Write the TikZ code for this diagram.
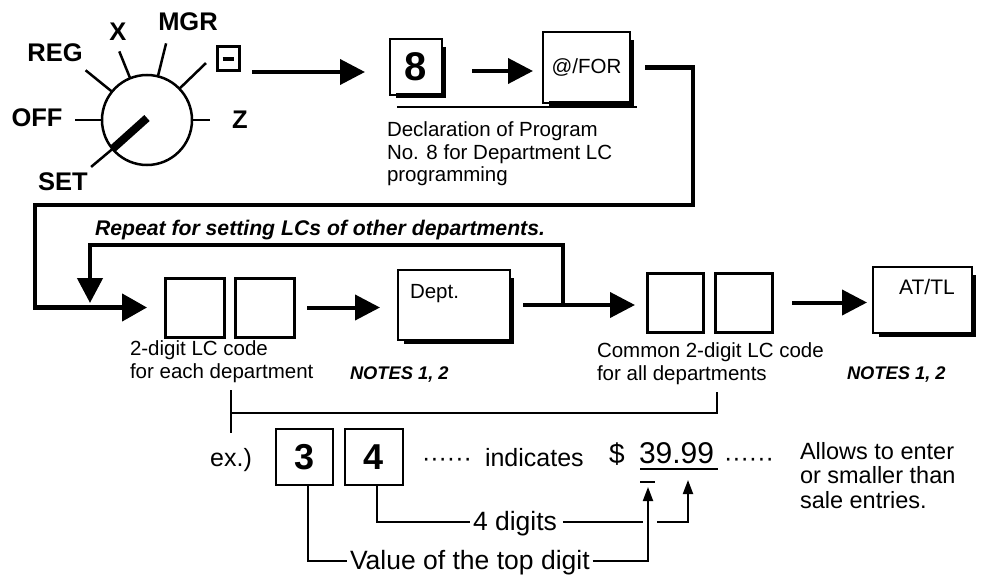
\documentclass[tikz,border=0pt]{standalone}
\usepackage{fontspec}
\setmainfont{Liberation Sans}
\usetikzlibrary{arrows.meta,calc}
\begin{document}
\begin{tikzpicture}[x=1pt,y=-1pt,
  every node/.style={inner sep=0pt, outer sep=0pt},
  midtext/.style={font=\fontsize{20.5}{22.5}\selectfont},
  lowtext/.style={font=\fontsize{25}{25}\selectfont},
  pointtext/.style={font=\fontsize{26.5}{26.5}\selectfont},
  dialtext/.style={font=\fontsize{25.5}{25.5}\selectfont\bfseries},
  notestext/.style={font=\fontsize{18.3}{19}\selectfont\bfseries\itshape},
  keybox/.style={draw, line width=2.5pt},
  blankbox/.style={draw, line width=3pt},
  digitbox/.style={draw, line width=2.6pt, font=\fontsize{36}{36}\selectfont\bfseries},
  ticks/.style={line width=2.5pt},
  bigarrow/.style={line width=4pt, -{Triangle[length=25pt,width=25pt]}},
  loopline/.style={line width=4.5pt},
  thinline/.style={line width=2pt},
  smallarrow/.style={line width=2pt, -{Triangle[length=14pt,width=10pt]}},
  shadowline/.style={line width=5pt}
]
\fill[white] (0,0) rectangle (982,575);
\useasboundingbox (0,0) rectangle (982,575);

% ---------- dial ----------
\node[draw, circle, line width=2.5pt, minimum size=90pt] (dial) at (147,120) {};
\draw[ticks] (dial.180) -- ++(180:27pt);
\draw[ticks] (dial.141) -- ++(141:34pt);
\draw[ticks] (dial.112) -- ++(112:29pt);
\draw[ticks] (dial.76) -- ++(76:34pt);
\draw[ticks] (dial.44) -- ++(44:37pt);
\draw[ticks] (dial.0) -- ++(0:18pt);
\draw[ticks] (dial.220) -- ++(220:28pt);
\draw[line width=8pt] ($(dial.center)+(0,-2)$) -- (dial.220);

\node[dialtext] (off) at (37,118) {OFF};
\node[dialtext] (reg) at (55,53) {REG};
\node[dialtext] (xl) at (118,32) {X};
\node[dialtext] (mgr) at (188,22) {MGR};
\node[dialtext] (zl) at (240,120) {Z};
\node[dialtext] (set) at (63,182) {SET};
\node[draw, line width=3pt, minimum width=22pt, minimum height=24pt] (minus) at (228,59) {\rule{11pt}{4.5pt}};

% ---------- top row ----------
\node[keybox, minimum width=52pt, minimum height=56pt, font=\fontsize{40}{40}\selectfont\bfseries] (eight) at (416,67) {8};
\node[keybox, minimum width=87pt, minimum height=71pt, font=\fontsize{20.5}{20}\selectfont] (atfor) at (586.5,67.5) {@/FOR};
\draw[bigarrow] ($(minus.east)+(13,13)$) -- ($(minus.east -| eight.west)+(-25,13)$);
\draw[bigarrow] ($(eight.east)+(30,4)$) -- ($(eight.east -| atfor.west)+(-10,4)$);
\draw[line width=2.5pt] (397,107) -- (637,107);
\node[midtext, anchor=north west, align=left] (decl) at (387,122) {Declaration of Program\\No. 8 for Department LC\\programming};

% ---------- second row ----------
\node[blankbox, minimum size=59pt] (lc1a) at (194.5,307.5) {};
\node[blankbox, minimum size=59pt] (lc1b) at (264.5,307.5) {};
\node[keybox, minimum width=112pt, minimum height=70pt] (dept) at (454,305) {};
\node[midtext, anchor=west] (depttext) at (410,294) {Dept.};
\node[blankbox, minimum width=56pt, minimum height=59pt] (lc2a) at (675,302.5) {};
\node[blankbox, minimum width=57pt, minimum height=59pt] (lc2b) at (743.5,302.5) {};
\node[keybox, minimum width=99pt, minimum height=66pt] (attl) at (922.5,300) {};
\node[font=\fontsize{21}{21}\selectfont] (attltext) at (927,287) {AT/TL};

\foreach \k in {eight,atfor,dept,attl}
  \draw[shadowline] ($(\k.north east)+(1,8)$) -- ($(\k.south east)+(1,1)$) -- ($(\k.south west)+(6,1)$);

\draw[bigarrow] ($(lc1b.east)+(13,0)$) -- ($(lc1b.east -| dept.west)+(-18,0)$);
\draw[bigarrow] ($(dept.east)+(13,0)$) -- ($(dept.east -| lc2a.west)+(-12,0)$);
\draw[bigarrow] ($(lc2b.east)+(20,0)$) -- ($(lc2b.east -| attl.west)+(-6,0)$);

% main loop from @/FOR
\coordinate (lA) at (693,205);
\coordinate (lB) at (35,205);
\draw[loopline, -{Triangle[length=25pt,width=27pt]}] ($(atfor.east)+(15,0)$) -| (lA) -- (lB) |- ($(lc1a.west)+(-18,0)$);

% repeat loop
\coordinate (rj) at (563,305);
\coordinate (rt) at (90,245);
\coordinate (rtip) at (90,303);
\draw[loopline, -{Triangle[length=25pt,width=25pt]}] (rj) |- (rt) -- (rtip);
\node[font=\fontsize{21.2}{21}\selectfont\bfseries\itshape, anchor=west] (repeat) at (95,230) {Repeat for setting LCs of other departments.};

\node[midtext, anchor=north west, align=left] (lc1text) at (130,341) {2-digit LC code\\for each department};
\node[notestext, anchor=west] (notes1) at (350,375) {NOTES 1, 2};
\node[midtext, anchor=north west, align=left] (lc2text) at (597,343) {Common 2-digit LC code\\for all departments};
\node[notestext, anchor=west] (notes2) at (847,375) {NOTES 1, 2};

% bracket
\coordinate (b1) at (231,390);
\coordinate (b2) at (231,433);
\coordinate (b3) at (231,413);
\coordinate (b4) at (717,392);
\draw[line width=2.5pt] (b1) -- (b2);
\draw[line width=2.5pt] (b3) -| (b4);

% ---------- example row ----------
\node[lowtext, anchor=base] (ex) at (231,466) {ex.)};
\node[digitbox, minimum width=57pt, minimum height=56pt] (three) at (304.5,457) {3};
\node[digitbox, minimum width=58pt, minimum height=56pt] (four) at (374,457) {4};
\node[lowtext, anchor=base west] (dots1) at (422,466) {······};
\node[lowtext, anchor=base west] (ind) at (485,466) {indicates};
\node[font=\fontsize{28}{28}\selectfont, anchor=base west] (dollar) at (609,463) {\$};
\node[font=\fontsize{30}{30}\selectfont, anchor=base west] (amount) at (639,463) {39.99};
\node[lowtext, anchor=base west] (dots2) at (724,466) {······};
\node[font=\fontsize{23.5}{24.5}\selectfont, anchor=north west, align=left] (allows) at (800,442) {Allows to enter\\or smaller than\\sale entries.};
\draw[line width=2.2pt] (640,469) -- (718,469);
\draw[line width=2.5pt] (640,482) -- (655,482);

\node[pointtext, anchor=base west] (digits) at (473,530) {4 digits};
\node[pointtext, anchor=base west] (valtext) at (350,569) {Value of the top digit};

\coordinate (tipA) at (648,487);
\coordinate (tipB) at (688,480);
\draw[thinline] ($(three.south)+(3,0)$) |- ($(valtext.base west)+(-3,-8)$);
\draw[smallarrow] ($(valtext.base east)+(3,-8)$) -| (tipA);
\draw[thinline] ($(four.south)+(3,0)$) |- ($(digits.base west)+(-3,-8)$);
\draw[thinline] ($(digits.base east)+(6,-8)$) -- ($(digits.base east -| tipA)+(-5,-8)$);
\draw[smallarrow] ($(digits.base east -| tipA)+(9,-8)$) -| (tipB);
\end{tikzpicture}
\end{document}
